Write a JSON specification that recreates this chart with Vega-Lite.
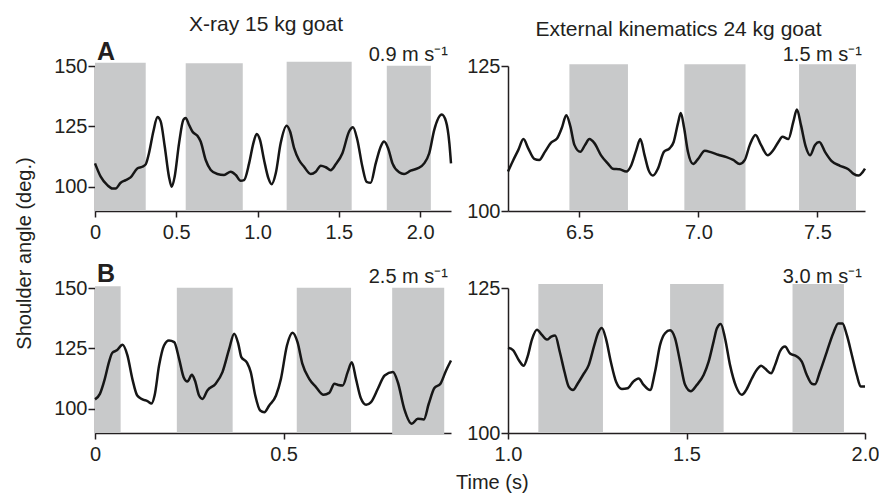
{
"$schema": "https://vega.github.io/schema/vega-lite/v6.json",
"padding": {"left": 14, "top": 14, "right": 0, "bottom": 2},
"background": "white",
"config": {
  "font": "Liberation Sans",
  "view": {"stroke": null},
  "axis": {"grid": false, "title": null, "domainColor": "#231f20", "domainWidth": 1.5, "tickColor": "#231f20", "tickWidth": 1.5, "tickSize": 6, "labelFont": "Liberation Sans", "labelFontSize": 20, "labelColor": "#231f20", "labelFlush": false, "labelOverlap": false},
  "axisX": {"labelPadding": 5},
  "axisY": {"labelPadding": 1, "tickSize": 7},
  "title": {"font": "Liberation Sans", "fontSize": 21, "fontWeight": "normal", "color": "#231f20"}
},
"title": {"text": "Shoulder angle (deg.)", "orient": "left", "anchor": "middle", "offset": 19, "fontSize": 20},
"datasets": {
  "labels": [
    {"panel": "A", "letter": "A", "speed": "0.9 m s⁻¹"},
    {"panel": "C", "letter": "", "speed": "1.5 m s⁻¹"},
    {"panel": "B", "letter": "B", "speed": "2.5 m s⁻¹"},
    {"panel": "D", "letter": "", "speed": "3.0 m s⁻¹"}
  ],
  "rectA": [
    {"start": 0, "end": 0.312, "lo": 90, "hi": 151.3},
    {"start": 0.558, "end": 0.909, "lo": 90, "hi": 151.1},
    {"start": 1.179, "end": 1.579, "lo": 90, "hi": 151.8},
    {"start": 1.795, "end": 2.066, "lo": 90, "hi": 150.1}
  ],
  "rectC": [
    {"start": 6.458, "end": 6.704, "lo": 100, "hi": 125.3},
    {"start": 6.941, "end": 7.198, "lo": 100, "hi": 125.3},
    {"start": 7.423, "end": 7.662, "lo": 100, "hi": 125.3}
  ],
  "rectB": [
    {"start": 0, "end": 0.068, "lo": 90, "hi": 150.7},
    {"start": 0.217, "end": 0.365, "lo": 90, "hi": 150.1},
    {"start": 0.535, "end": 0.679, "lo": 90, "hi": 150.1},
    {"start": 0.788, "end": 0.926, "lo": 89.2, "hi": 150.1}
  ],
  "rectD": [
    {"start": 1.085, "end": 1.266, "lo": 100, "hi": 125.7},
    {"start": 1.454, "end": 1.604, "lo": 100, "hi": 125.7},
    {"start": 1.797, "end": 1.941, "lo": 100, "hi": 125.7}
  ],
  "lineA": [
    {"t":0,"a":109.7},{"t":0.035,"a":104.2},{"t":0.076,"a":100.7},{"t":0.107,"a":99.3},{"t":0.127,"a":99.3},{"t":0.158,"a":101.7},{"t":0.189,"a":102.8},{"t":0.219,"a":103.9},{"t":0.26,"a":107.6},{"t":0.291,"a":108.3},{"t":0.312,"a":109.3},{"t":0.332,"a":113.9},{"t":0.359,"a":122.9},{"t":0.384,"a":128.9},{"t":0.404,"a":127.1},{"t":0.429,"a":116.7},{"t":0.455,"a":104.2},{"t":0.472,"a":100},{"t":0.49,"a":104.2},{"t":0.517,"a":118},{"t":0.544,"a":127.8},{"t":0.558,"a":128.5},{"t":0.578,"a":125.7},{"t":0.599,"a":122.9},{"t":0.63,"a":121.1},{"t":0.65,"a":118.75},{"t":0.681,"a":111.1},{"t":0.712,"a":107},{"t":0.753,"a":105.3},{"t":0.794,"a":104.9},{"t":0.835,"a":106.25},{"t":0.866,"a":104.9},{"t":0.896,"a":102.5},{"t":0.917,"a":102.8},{"t":0.948,"a":109.7},{"t":0.974,"a":118},{"t":0.995,"a":121.9},{"t":1.015,"a":119.4},{"t":1.04,"a":111.1},{"t":1.067,"a":103.5},{"t":1.087,"a":101.1},{"t":1.112,"a":105.6},{"t":1.142,"a":118},{"t":1.179,"a":125.3},{"t":1.2,"a":122.9},{"t":1.225,"a":116},{"t":1.255,"a":111.1},{"t":1.286,"a":108.3},{"t":1.327,"a":105.3},{"t":1.358,"a":106.25},{"t":1.389,"a":108.75},{"t":1.42,"a":108.1},{"t":1.45,"a":106.9},{"t":1.481,"a":109.3},{"t":1.522,"a":113.9},{"t":1.563,"a":122.9},{"t":1.587,"a":124.7},{"t":1.614,"a":119.4},{"t":1.645,"a":108.3},{"t":1.671,"a":102.1},{"t":1.696,"a":101.7},{"t":1.727,"a":109.7},{"t":1.758,"a":116.7},{"t":1.778,"a":118.75},{"t":1.803,"a":116},{"t":1.83,"a":109.7},{"t":1.871,"a":106},{"t":1.901,"a":105.3},{"t":1.942,"a":106.7},{"t":1.984,"a":107.6},{"t":2.025,"a":109.7},{"t":2.056,"a":113.9},{"t":2.087,"a":123.6},{"t":2.133,"a":129.9},{"t":2.159,"a":127.1},{"t":2.18,"a":118},{"t":2.19,"a":109.7}
  ],
  "lineC": [
    {"t":6.2,"a":106.8},{"t":6.219,"a":108.5},{"t":6.243,"a":110.5},{"t":6.265,"a":112.4},{"t":6.285,"a":110.8},{"t":6.31,"a":109.0},{"t":6.331,"a":108.8},{"t":6.355,"a":110.2},{"t":6.381,"a":111.8},{"t":6.406,"a":112.5},{"t":6.426,"a":114.3},{"t":6.445,"a":116.5},{"t":6.462,"a":114.6},{"t":6.479,"a":111.4},{"t":6.504,"a":110.2},{"t":6.524,"a":111.4},{"t":6.542,"a":112.4},{"t":6.563,"a":111.7},{"t":6.591,"a":109.6},{"t":6.619,"a":108.2},{"t":6.64,"a":107.3},{"t":6.669,"a":107.2},{"t":6.697,"a":106.8},{"t":6.718,"a":107.9},{"t":6.739,"a":110.5},{"t":6.756,"a":112.4},{"t":6.774,"a":109.6},{"t":6.791,"a":107.0},{"t":6.809,"a":106.1},{"t":6.83,"a":107.3},{"t":6.855,"a":110.2},{"t":6.879,"a":110.8},{"t":6.896,"a":111.9},{"t":6.914,"a":115.1},{"t":6.926,"a":116.9},{"t":6.94,"a":114.3},{"t":6.956,"a":110.2},{"t":6.978,"a":108.1},{"t":6.999,"a":109.0},{"t":7.027,"a":110.4},{"t":7.055,"a":110.1},{"t":7.083,"a":109.7},{"t":7.118,"a":109.3},{"t":7.146,"a":108.8},{"t":7.174,"a":108.1},{"t":7.195,"a":108.8},{"t":7.216,"a":111.4},{"t":7.24,"a":113.1},{"t":7.263,"a":111.4},{"t":7.291,"a":109.6},{"t":7.315,"a":110.5},{"t":7.336,"a":111.9},{"t":7.353,"a":112.8},{"t":7.378,"a":112.4},{"t":7.399,"a":115.4},{"t":7.414,"a":117.5},{"t":7.431,"a":114.8},{"t":7.451,"a":111.1},{"t":7.469,"a":109.6},{"t":7.49,"a":111.4},{"t":7.508,"a":111.9},{"t":7.532,"a":110.2},{"t":7.56,"a":108.6},{"t":7.595,"a":107.8},{"t":7.63,"a":107.2},{"t":7.652,"a":106.4},{"t":7.673,"a":106.1},{"t":7.69,"a":106.7},{"t":7.7,"a":107.3}
  ],
  "lineB": [
    {"t":0,"a":103.9},{"t":0.013,"a":106.2},{"t":0.026,"a":112.4},{"t":0.037,"a":119.3},{"t":0.046,"a":123.2},{"t":0.058,"a":124.2},{"t":0.073,"a":126.5},{"t":0.086,"a":122.1},{"t":0.099,"a":112.4},{"t":0.112,"a":105.5},{"t":0.126,"a":103.9},{"t":0.139,"a":103.2},{"t":0.15,"a":102.2},{"t":0.158,"a":105.5},{"t":0.17,"a":118},{"t":0.183,"a":126.2},{"t":0.196,"a":128.3},{"t":0.21,"a":127.6},{"t":0.223,"a":120.7},{"t":0.235,"a":113.1},{"t":0.245,"a":111.3},{"t":0.257,"a":114.1},{"t":0.265,"a":111.7},{"t":0.276,"a":105.5},{"t":0.285,"a":104.1},{"t":0.298,"a":107.6},{"t":0.32,"a":110.4},{"t":0.338,"a":115.2},{"t":0.356,"a":124.9},{"t":0.369,"a":131.1},{"t":0.38,"a":126.9},{"t":0.388,"a":121.4},{"t":0.403,"a":119.1},{"t":0.413,"a":115.2},{"t":0.425,"a":105.5},{"t":0.438,"a":99.3},{"t":0.449,"a":98.6},{"t":0.462,"a":101.4},{"t":0.48,"a":105.5},{"t":0.493,"a":112.4},{"t":0.509,"a":126.2},{"t":0.524,"a":131.5},{"t":0.537,"a":127.6},{"t":0.55,"a":118.6},{"t":0.568,"a":112.4},{"t":0.586,"a":109.0},{"t":0.606,"a":105.8},{"t":0.621,"a":106.6},{"t":0.635,"a":110.4},{"t":0.645,"a":109.9},{"t":0.657,"a":109.7},{"t":0.67,"a":115.2},{"t":0.681,"a":119.3},{"t":0.692,"a":112.4},{"t":0.705,"a":104.4},{"t":0.719,"a":101.7},{"t":0.732,"a":102.8},{"t":0.75,"a":108.3},{"t":0.768,"a":113.8},{"t":0.79,"a":115.2},{"t":0.803,"a":111.0},{"t":0.82,"a":100},{"t":0.84,"a":93.8},{"t":0.856,"a":95.9},{"t":0.872,"a":95.6},{"t":0.885,"a":102.1},{"t":0.9,"a":108.6},{"t":0.916,"a":110.4},{"t":0.931,"a":115.9},{"t":0.944,"a":120.0}
  ],
  "lineD": [
    {"t":1.0,"a":114.7},{"t":1.014,"a":114.3},{"t":1.03,"a":112.6},{"t":1.044,"a":111.6},{"t":1.055,"a":113.2},{"t":1.067,"a":116.1},{"t":1.081,"a":117.8},{"t":1.095,"a":116.9},{"t":1.109,"a":116.1},{"t":1.121,"a":116.6},{"t":1.132,"a":116.8},{"t":1.145,"a":114.0},{"t":1.158,"a":110.6},{"t":1.17,"a":108},{"t":1.182,"a":107.4},{"t":1.195,"a":108.5},{"t":1.21,"a":110},{"t":1.226,"a":111.7},{"t":1.242,"a":115.2},{"t":1.252,"a":117.2},{"t":1.263,"a":118.1},{"t":1.275,"a":116.1},{"t":1.288,"a":112.3},{"t":1.303,"a":108.8},{"t":1.319,"a":107.6},{"t":1.335,"a":107.7},{"t":1.35,"a":108.8},{"t":1.366,"a":109.4},{"t":1.38,"a":108.3},{"t":1.398,"a":107.4},{"t":1.412,"a":110.6},{"t":1.426,"a":115.2},{"t":1.44,"a":117.2},{"t":1.454,"a":117.7},{"t":1.468,"a":116.3},{"t":1.482,"a":112.3},{"t":1.496,"a":108.3},{"t":1.512,"a":107.2},{"t":1.529,"a":108.3},{"t":1.548,"a":110},{"t":1.562,"a":112.3},{"t":1.576,"a":115.8},{"t":1.585,"a":118},{"t":1.596,"a":118.8},{"t":1.608,"a":116.3},{"t":1.622,"a":111.7},{"t":1.639,"a":108},{"t":1.655,"a":106.6},{"t":1.667,"a":107.4},{"t":1.683,"a":109.4},{"t":1.697,"a":110.9},{"t":1.709,"a":111.6},{"t":1.72,"a":111.1},{"t":1.737,"a":110.3},{"t":1.748,"a":111.7},{"t":1.762,"a":114.1},{"t":1.776,"a":114.9},{"t":1.79,"a":113.7},{"t":1.809,"a":113.2},{"t":1.823,"a":112.3},{"t":1.837,"a":110.0},{"t":1.851,"a":108.5},{"t":1.86,"a":108.4},{"t":1.874,"a":110.6},{"t":1.893,"a":114.0},{"t":1.911,"a":117.2},{"t":1.925,"a":118.9},{"t":1.937,"a":118.9},{"t":1.949,"a":116.9},{"t":1.963,"a":113.5},{"t":1.977,"a":110.0},{"t":1.988,"a":108},{"t":2.0,"a":108}
  ]
},
"vconcat": [
 {
  "title": {"text": "Time (s)", "orient": "bottom", "anchor": "middle", "dx": 26, "offset": 9, "fontSize": 20},
  "bounds": "flush",
  "columns": 2,
  "spacing": {"row": 77, "column": 57},
  "concat": [
     {
      "width": 356, "height": 145,
      "title": {"text": "X-ray 15 kg goat", "anchor": "middle", "frame": "group", "dx": -7, "offset": 5},
      "layer": [
       {"data": {"name": "rectA"}, "mark": {"type": "rect", "color": "#c8c9ca"},
        "encoding": {
          "x": {"field": "start", "type": "quantitative", "scale": {"domain": [0, 2.19], "nice": false, "zero": false}, "axis": {"values": [0, 0.5, 1, 1.5, 2], "labelExpr": "datum.value == 0 ? '0' : format(datum.value, '.1f')"}},
          "x2": {"field": "end"},
          "y": {"field": "lo", "type": "quantitative", "scale": {"domain": [90, 150], "nice": false, "zero": false}, "axis": {"values": [100, 125, 150]}},
          "y2": {"field": "hi"}}},
       {"data": {"name": "lineA"}, "mark": {"type": "line", "interpolate": "monotone", "color": "#161616", "strokeWidth": 2.5},
        "encoding": {"x": {"field": "t", "type": "quantitative"}, "y": {"field": "a", "type": "quantitative"}}},
       {"data": {"name": "labels"}, "transform": [{"filter": "datum.panel == 'A'"}],
        "mark": {"type": "text", "align": "left", "baseline": "alphabetic", "fontSize": 25, "fontWeight": "bold", "color": "#231f20", "dx": 2, "dy": -6},
        "encoding": {"x": {"datum": 0}, "y": {"datum": 150}, "text": {"field": "letter"}}},
       {"data": {"name": "labels"}, "transform": [{"filter": "datum.panel == 'A'"}],
        "mark": {"type": "text", "align": "right", "baseline": "alphabetic", "fontSize": 20, "color": "#231f20", "dx": -3, "dy": -5},
        "encoding": {"x": {"datum": 2.19}, "y": {"datum": 150}, "text": {"field": "speed"}}}
      ]
     },
     {
      "width": 357, "height": 145,
      "title": {"text": "External kinematics 24 kg goat", "anchor": "middle", "frame": "group", "dx": -8, "offset": 5},
      "layer": [
       {"data": {"name": "rectC"}, "mark": {"type": "rect", "color": "#c8c9ca"},
        "encoding": {
          "x": {"field": "start", "type": "quantitative", "scale": {"domain": [6.2, 7.7], "nice": false, "zero": false}, "axis": {"values": [6.5, 7, 7.5], "format": ".1f"}},
          "x2": {"field": "end"},
          "y": {"field": "lo", "type": "quantitative", "scale": {"domain": [100, 125], "nice": false, "zero": false}, "axis": {"values": [100, 125]}},
          "y2": {"field": "hi"}}},
       {"data": {"name": "lineC"}, "mark": {"type": "line", "interpolate": "monotone", "color": "#161616", "strokeWidth": 2.5},
        "encoding": {"x": {"field": "t", "type": "quantitative"}, "y": {"field": "a", "type": "quantitative"}}},
       {"data": {"name": "labels"}, "transform": [{"filter": "datum.panel == 'C'"}],
        "mark": {"type": "text", "align": "right", "baseline": "alphabetic", "fontSize": 20, "color": "#231f20", "dx": -3, "dy": -5},
        "encoding": {"x": {"datum": 7.7}, "y": {"datum": 125}, "text": {"field": "speed"}}}
      ]
     },
     {
      "width": 356, "height": 145,
      "layer": [
       {"data": {"name": "rectB"}, "mark": {"type": "rect", "color": "#c8c9ca"},
        "encoding": {
          "x": {"field": "start", "type": "quantitative", "scale": {"domain": [0, 0.944], "nice": false, "zero": false}, "axis": {"values": [0, 0.5], "labelExpr": "datum.value == 0 ? '0' : format(datum.value, '.1f')"}},
          "x2": {"field": "end"},
          "y": {"field": "lo", "type": "quantitative", "scale": {"domain": [90, 150], "nice": false, "zero": false}, "axis": {"values": [100, 125, 150]}},
          "y2": {"field": "hi"}}},
       {"data": {"name": "lineB"}, "mark": {"type": "line", "interpolate": "monotone", "color": "#161616", "strokeWidth": 2.5},
        "encoding": {"x": {"field": "t", "type": "quantitative"}, "y": {"field": "a", "type": "quantitative"}}},
       {"data": {"name": "labels"}, "transform": [{"filter": "datum.panel == 'B'"}],
        "mark": {"type": "text", "align": "left", "baseline": "alphabetic", "fontSize": 25, "fontWeight": "bold", "color": "#231f20", "dx": 2, "dy": -6},
        "encoding": {"x": {"datum": 0}, "y": {"datum": 150}, "text": {"field": "letter"}}},
       {"data": {"name": "labels"}, "transform": [{"filter": "datum.panel == 'B'"}],
        "mark": {"type": "text", "align": "right", "baseline": "alphabetic", "fontSize": 20, "color": "#231f20", "dx": -3, "dy": -5},
        "encoding": {"x": {"datum": 0.944}, "y": {"datum": 150}, "text": {"field": "speed"}}}
      ]
     },
     {
      "width": 357, "height": 145,
      "layer": [
       {"data": {"name": "rectD"}, "mark": {"type": "rect", "color": "#c8c9ca"},
        "encoding": {
          "x": {"field": "start", "type": "quantitative", "scale": {"domain": [1, 2], "nice": false, "zero": false}, "axis": {"values": [1, 1.5, 2], "format": ".1f"}},
          "x2": {"field": "end"},
          "y": {"field": "lo", "type": "quantitative", "scale": {"domain": [100, 125], "nice": false, "zero": false}, "axis": {"values": [100, 125]}},
          "y2": {"field": "hi"}}},
       {"data": {"name": "lineD"}, "mark": {"type": "line", "interpolate": "monotone", "color": "#161616", "strokeWidth": 2.5},
        "encoding": {"x": {"field": "t", "type": "quantitative"}, "y": {"field": "a", "type": "quantitative"}}},
       {"data": {"name": "labels"}, "transform": [{"filter": "datum.panel == 'D'"}],
        "mark": {"type": "text", "align": "right", "baseline": "alphabetic", "fontSize": 20, "color": "#231f20", "dx": -3, "dy": -5},
        "encoding": {"x": {"datum": 2}, "y": {"datum": 125}, "text": {"field": "speed"}}}
      ]
     }
  ]
 }
]
}
